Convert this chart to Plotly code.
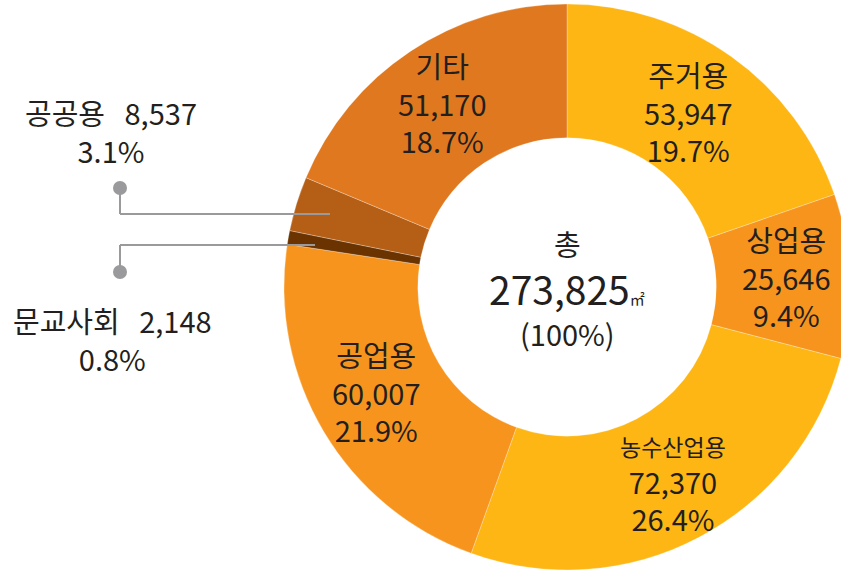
import plotly.graph_objects as go

labels = ["주거용", "상업용", "농수산업용", "공업용", "문교사회", "공공용", "기타"]
values = [53947, 25646, 72370, 60007, 2148, 8537, 51170]
colors = ["#FDB614", "#F7941E", "#FDB614", "#F7941E", "#6B3300", "#B45F15", "#E0781F"]
total_label = "총"
total_unit = "㎡"

W, H = 870, 571
total = sum(values)
pcts = [v / total * 100 for v in values]

def px(x, y):
    return x / W, 1 - y / H

cx, cy, R = 567, 287, 283
fig = go.Figure(go.Pie(
    labels=labels, values=values, sort=False, direction="clockwise", rotation=0,
    hole=0.527, textinfo="none", hoverinfo="label+value+percent",
    marker=dict(colors=colors, line=dict(color="rgba(255,255,255,0.35)", width=0.8)),
    domain=dict(x=[(cx - R) / W, (cx + R) / W], y=[1 - (cy + R) / H, 1 - (cy - R) / H]),
    showlegend=False,
))

FS = 29
font = dict(family="Noto Sans CJK KR, sans-serif", size=FS, color="#231F20")
inside_pos = {"주거용": (688, 111), "상업용": (786, 276), "농수산업용": (673, 484),
              "공업용": (376, 391), "기타": (442, 103)}
anns = []
for lab, v, p in zip(labels, values, pcts):
    if lab in inside_pos:
        x, y = px(*inside_pos[lab])
        name = f"<span style='font-size:23px'>{lab}</span>" if len(lab) > 3 else lab
        anns.append(dict(x=x, y=y, xref="paper", yref="paper", showarrow=False,
                         text=f"{name}<br>{v:,}<br>{p:.1f}%", align="center",
                         font=font, xanchor="center", yanchor="middle"))
outside_pos = {"공공용": (111, 131), "문교사회": (112, 339)}
for lab, v, p in zip(labels, values, pcts):
    if lab in outside_pos:
        x, y = px(*outside_pos[lab])
        anns.append(dict(x=x, y=y, xref="paper", yref="paper", showarrow=False,
                         text=f"{lab}&nbsp;&nbsp;&nbsp;{v:,}<br>{p:.1f}%", align="center",
                         font=font, xanchor="center", yanchor="middle"))
for txt, yy, fs in [(total_label, 243, FS),
                    (f"{total:,}<span style='font-size:15px'>{total_unit}</span>", 288, 39),
                    ("(100%)", 333, FS)]:
    x, y = px(567, yy)
    anns.append(dict(x=x, y=y, xref="paper", yref="paper", showarrow=False, text=txt,
                     font=dict(font, size=fs), xanchor="center", yanchor="middle"))

gray = "#9A9A9C"
shapes = []
def line(x0, y0, x1, y1):
    a, b = px(x0, y0); c, d = px(x1, y1)
    shapes.append(dict(type="line", xref="paper", yref="paper", x0=a, y0=b, x1=c, y1=d,
                       line=dict(color=gray, width=2)))
def dot(x0, y0, r=7):
    a, b = px(x0 - r, y0 - r); c, d = px(x0 + r, y0 + r)
    shapes.append(dict(type="circle", xref="paper", yref="paper", x0=a, y0=b, x1=c, y1=d,
                       fillcolor=gray, line=dict(width=0)))
line(120, 188, 120, 214); line(120, 214, 330, 214); dot(120, 188)
line(120, 272, 120, 245); line(120, 245, 315, 245); dot(120, 272)

fig.update_layout(width=W, height=H, margin=dict(l=0, r=0, t=0, b=0),
                  paper_bgcolor="white", plot_bgcolor="white",
                  annotations=anns, shapes=shapes)
fig.write_html("out.html", config={"displayModeBar": False},
               post_script="document.body.style.margin='0';document.body.style.overflow='hidden';")
